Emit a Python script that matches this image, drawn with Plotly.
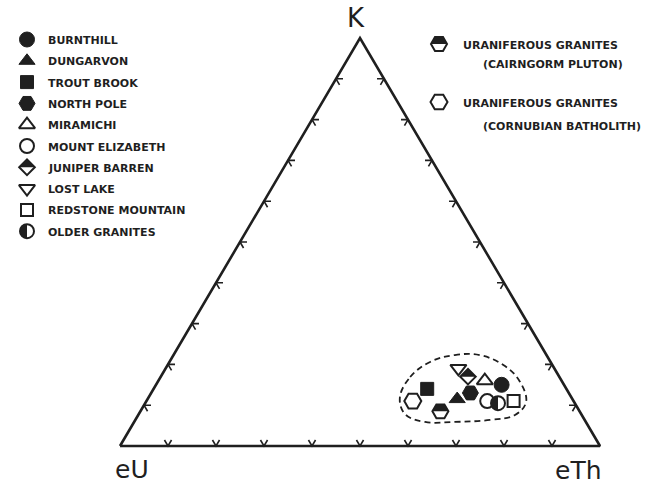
import math
import plotly.graph_objects as go

# ---- data: K / eU / eTh proportions (percent) ----
names = ["BURNTHILL", "DUNGARVON", "TROUT BROOK", "NORTH POLE", "MIRAMICHI",
         "MOUNT ELIZABETH", "JUNIPER BARREN", "LOST LAKE", "REDSTONE MOUNTAIN",
         "OLDER GRANITES"]
k_pct = [15.0, 11.5, 14.0, 13.0, 16.0, 11.0, 17.0, 19.0, 11.0, 10.5]
eu_pct = [13.0, 24.0, 29.0, 20.5, 16.0, 18.0, 19.0, 20.0, 12.5, 16.0]
eth_pct = [72.0, 64.5, 57.0, 66.5, 68.0, 71.0, 64.0, 61.0, 76.5, 73.5]

ref_lines = [["URANIFEROUS GRANITES", "(CAIRNGORM PLUTON)"],
             ["URANIFEROUS GRANITES", "(CORNUBIAN BATHOLITH)"]]
ref_k = [8.5, 11.0]
ref_eu = [29.0, 33.5]
ref_eth = [62.5, 55.5]

# outline of the granite field (dashed)
field_k = [11.8, 16.9, 20.6, 22.3, 22.3, 19.6, 15.7, 10.8, 7.6, 6.4, 5.9, 5.9, 7.8]
field_eu = [35.8, 31.1, 25.1, 19.1, 13.9, 10.0, 8.8, 10.0, 13.9, 19.7, 27.3, 33.5, 36.7]
field_eth = [52.4, 52.0, 54.3, 58.6, 63.8, 70.4, 75.5, 79.2, 78.5, 73.9, 66.8, 60.6, 55.5]

tick_fracs = [0.1, 0.2, 0.3, 0.4, 0.5, 0.6, 0.7, 0.8, 0.9]

# ---- styling ----
INK = "#1f1f1f"
FONT = "DejaVu Sans"
H = 0.85            # height of the K apex above the eU-eTh base
PX = 480.0          # pixels per axis unit
X0, Y0 = 120.0, 446.0   # pixel position of the eU corner

# symbol, size, filled, half-fill kind
styles = [
    ("circle", 15, True, None),
    ("triangle-up", 14, True, None),
    ("square", 13, True, None),
    ("hexagon2", 16, True, None),
    ("triangle-up", 14, False, None),
    ("circle", 14, False, None),
    ("diamond", 12, False, "diamond-top"),
    ("triangle-down", 14, False, None),
    ("square", 12, False, None),
    ("circle", 14, False, "circle-left"),
]
ref_styles = [
    ("hexagon2", 16, False, "hex-top"),
    ("hexagon2", 17, False, None),
]


def project(k, eu, eth):
    tot = k + eu + eth
    return (eth + k / 2.0) / tot, k / tot * H


def at_px(xp, yp):
    return (xp - X0) / PX, (Y0 - yp) / PX


def half_path(cx, cy, size, kind):
    r = size / 2.0 / PX
    if kind == "circle-left":
        pts = [(cx + r * math.cos(math.radians(a)), cy + r * math.sin(math.radians(a)))
               for a in range(90, 271, 10)]
    elif kind == "diamond-top":
        rd = 1.3 * r
        pts = [(cx - rd, cy), (cx + rd, cy), (cx, cy + rd)]
    else:  # hex-top
        rc = r * math.sqrt(3) / 2
        pts = [(cx - r, cy), (cx + r, cy), (cx + r / 2, cy + rc), (cx - r / 2, cy + rc)]
    return "M " + " L ".join(f"{x:.5f},{y:.5f}" for x, y in pts) + " Z"


fig = go.Figure()
shapes = []


def add_point(x, y, style):
    sym, size, filled, half = style
    fig.add_trace(go.Scatter(
        x=[x], y=[y], mode="markers", hoverinfo="skip", showlegend=False,
        marker=dict(symbol=sym, size=size,
                    color=INK if filled else "white",
                    line=dict(color=INK, width=1 if filled else 2)),
    ))
    if half:
        shapes.append(dict(type="path", xref="x", yref="y", layer="above",
                           path=half_path(x, y, size, half),
                           fillcolor=INK, line=dict(width=0)))


# triangle frame
corners = [project(0, 100, 0), project(0, 0, 100), project(100, 0, 0), project(0, 100, 0)]
fig.add_trace(go.Scatter(
    x=[c[0] for c in corners], y=[c[1] for c in corners], mode="lines",
    line=dict(color=INK, width=2.6), hoverinfo="skip", showlegend=False))

# chevron ticks along each side, arms parallel to the two other sides
arm = 7.0 / PX
side_len = math.hypot(0.5, H)
uL = (0.5 / side_len, H / side_len)     # along eU -> K
uR = (-0.5 / side_len, H / side_len)    # along eTh -> K
tx, ty = [], []
for f in tick_fracs:
    for (px_, py_), d1, d2 in [
        (project(0, 1 - f, f), uL, uR),                    # base
        (project(f, 1 - f, 0), (1, 0), (-uR[0], -uR[1])),  # eU-K side
        (project(f, 0, 1 - f), (-1, 0), (-uL[0], -uL[1])), # eTh-K side
    ]:
        tx += [px_ + arm * d1[0], px_, px_ + arm * d2[0], None]
        ty += [py_ + arm * d1[1], py_, py_ + arm * d2[1], None]
fig.add_trace(go.Scatter(x=tx, y=ty, mode="lines", line=dict(color=INK, width=1.6),
                         hoverinfo="skip", showlegend=False))

# dashed field boundary
fxy = [project(k, u, t) for k, u, t in zip(field_k, field_eu, field_eth)]
fxy.append(fxy[0])
fig.add_trace(go.Scatter(
    x=[p[0] for p in fxy], y=[p[1] for p in fxy], mode="lines",
    line=dict(color=INK, width=1.8, dash="6px,4px", shape="spline", smoothing=1.1),
    hoverinfo="skip", showlegend=False))

# data points
for k, u, t, st in zip(k_pct, eu_pct, eth_pct, styles):
    x, y = project(k, u, t)
    add_point(x, y, st)
for k, u, t, st in zip(ref_k, ref_eu, ref_eth, ref_styles):
    x, y = project(k, u, t)
    add_point(x, y, st)

annotations = []


def label(xp, yp, text, size=11, bold=True, anchor="left"):
    x, y = at_px(xp, yp)
    annotations.append(dict(x=x, y=y, xref="x", yref="y", text=text, showarrow=False,
                            xanchor=anchor, yanchor="middle",
                            font=dict(family=FONT, size=size, color=INK,
                                      weight="bold" if bold else "normal")))


# key for the sample groups
for i, (nm, st) in enumerate(zip(names, styles)):
    yp = 39.5 + i * 21.3
    x, y = at_px(27, yp)
    add_point(x, y, st)
    label(46, yp + 1, nm)

# key for the reference granites
for (l1, l2), st, ys in zip(ref_lines, ref_styles, [(44, 63), (102, 125)]):
    x, y = at_px(439, ys[0])
    add_point(x, y, st)
    label(461, ys[0] + 1, l1)
    label(481, ys[1] + 1, l2)

# corner labels
label(356, 18, "K", size=26, bold=False, anchor="center")
label(132, 469, "eU", size=25, bold=False, anchor="center")
label(578, 470, "eTh", size=25, bold=False, anchor="center")

fig.update_layout(
    width=666, height=488,
    margin=dict(l=0, r=0, t=0, b=0),
    paper_bgcolor="white", plot_bgcolor="white",
    xaxis=dict(range=[-X0 / PX, (666 - X0) / PX], visible=False, fixedrange=True),
    yaxis=dict(range=[(Y0 - 488) / PX, Y0 / PX], visible=False, fixedrange=True),
    shapes=shapes,
    annotations=annotations,
    showlegend=False,
)

fig.write_html("out.html")
